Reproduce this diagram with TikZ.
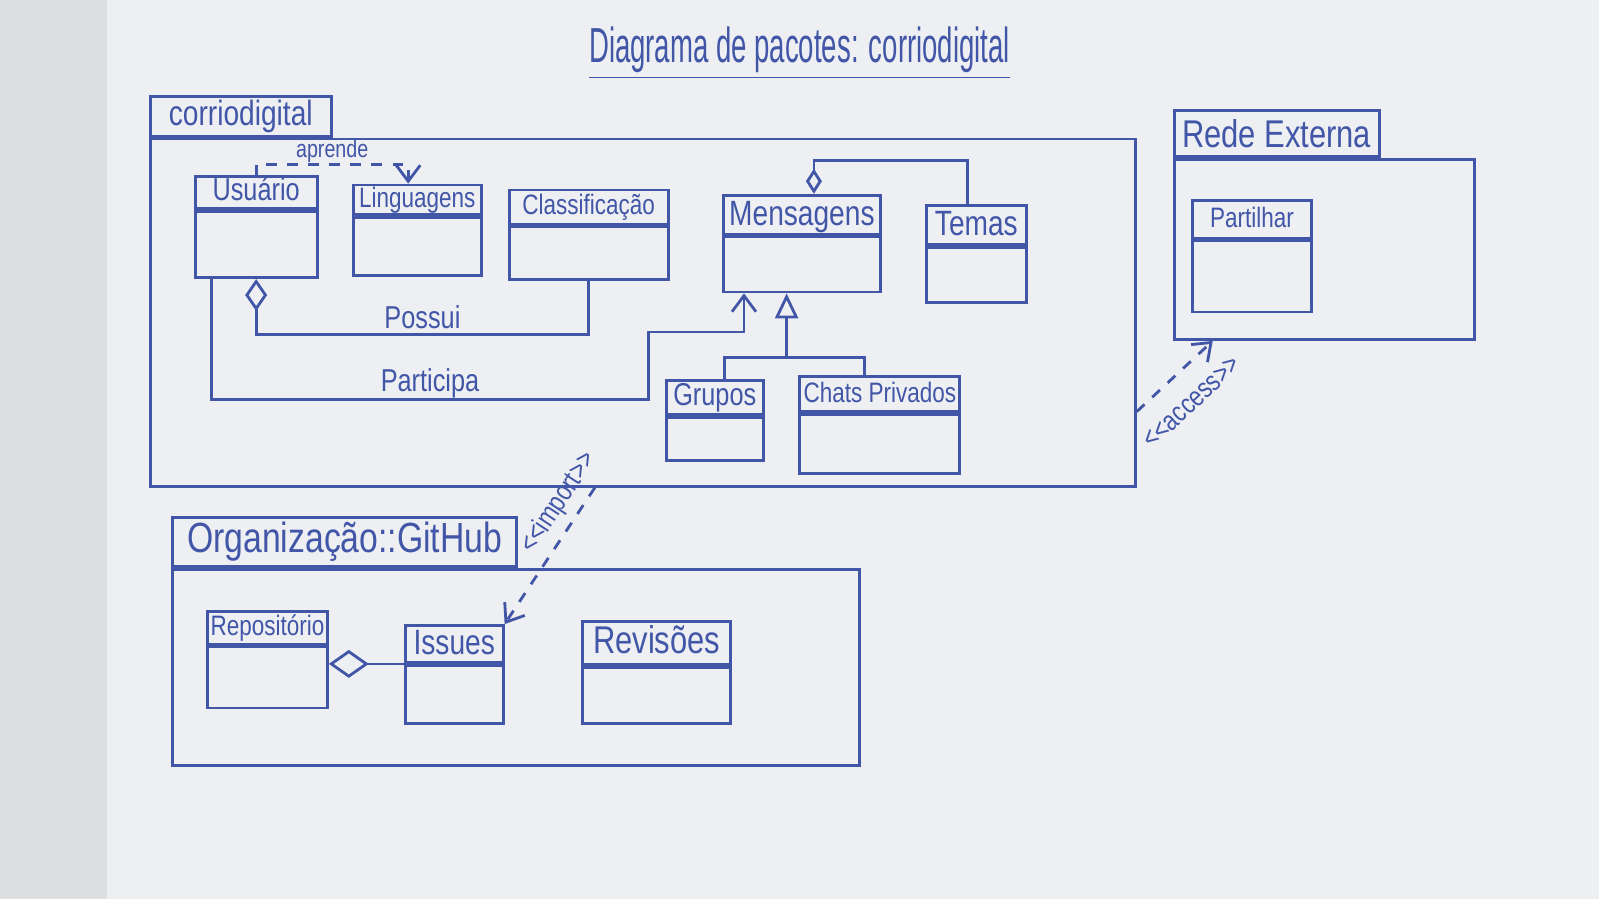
\documentclass[tikz,border=0pt]{standalone}
\usepackage{fontspec}
\setmainfont{Liberation Sans}
\newfontfamily\handfont[FakeStretch=0.8]{Liberation Sans}
\newfontfamily\titlefont[FakeStretch=0.56]{Liberation Sans}
\usepackage{tikz}
\usetikzlibrary{arrows.meta,positioning,calc}
\definecolor{ink}{RGB}{66,86,168}
\definecolor{paper}{RGB}{237,239,242}
\definecolor{sleeve}{RGB}{220,222,224}
\tikzset{
  clshead/.style={rectangle, draw=ink, thick, anchor=north west, inner sep=0.5pt, text height=6pt, text depth=1.5pt, text=ink, font=\handfont\fontsize{8}{9.6}\selectfont},
  bigname/.style={text height=7.5pt, font=\handfont\fontsize{10}{12}\selectfont},
  clsbody/.style={rectangle, draw=ink, thick, inner sep=0pt},
  pkgbody/.style={rectangle, draw=ink, thick, anchor=north west, inner sep=0pt},
  pkgtab/.style={rectangle, draw=ink, thick, inner sep=1pt, text=ink},
  inkline/.style={draw=ink, thick},
  agg/.style={inkline, {Diamond[open,length=3.2mm,width=2.2mm]}-},
  inh/.style={inkline, -{Triangle[open,length=2.5mm,width=2.3mm]}},
  assoc/.style={inkline, -{Straight Barb[length=1.6mm,width=2.4mm]}},
  dep/.style={assoc, dashed},
  lbl/.style={text=ink, inner sep=1pt, font=\handfont\fontsize{9}{10}\selectfont},
  stereo/.style={lbl, font=\handfont\fontsize{8}{9}\selectfont},
}

\begin{document}
\begin{tikzpicture}[x=0.10198mm, y=-0.10198mm]
  \useasboundingbox (0,0) rectangle (1568,882);
  \fill[paper] (0,0) rectangle (1568,882);
  \fill[sleeve] (0,0) rectangle (105,882);

  % Title
  \node[text=ink, font=\titlefont\fontsize{14}{16}\selectfont] (title) at (784,52) {\underline{Diagrama de pacotes: corriodigital}};

  % Package corriodigital
  \node[pkgbody, minimum width=98.5mm, minimum height=34.7mm] (corr) at (146,135) {};
  \node[pkgtab, above right=0pt of corr.north west, minimum width=18.1mm, minimum height=3.3mm, font=\handfont\fontsize{10}{12}\selectfont] (corr-tab) {corriodigital};

  \node[clshead, minimum width=12.2mm, minimum height=3.2mm, font=\handfont\fontsize{9}{10}\selectfont] (usuario) at (190,172) {Usuário};
  \node[clsbody, below=0pt of usuario, minimum width=12.2mm, minimum height=6.6mm] (usuario-b) {};
  \node[clshead, minimum width=12.8mm, minimum height=2.9mm] (linguagens) at (345,180) {Linguagens};
  \node[clsbody, below=0pt of linguagens, minimum width=12.8mm, minimum height=5.8mm] (linguagens-b) {};
  \node[clshead, minimum width=15.9mm, minimum height=3.4mm] (classificacao) at (498,185) {Classificação};
  \node[clsbody, below=0pt of classificacao, minimum width=15.9mm, minimum height=5.3mm] (classificacao-b) {};
  \node[clshead, bigname, minimum width=15.7mm, minimum height=3.9mm] (mensagens) at (708,190) {Mensagens};
  \node[clsbody, below=0pt of mensagens, minimum width=15.7mm, minimum height=5.5mm] (mensagens-b) {};
  \node[clshead, bigname, minimum width=10mm, minimum height=3.9mm] (temas) at (907,200) {Temas};
  \node[clsbody, below=0pt of temas, minimum width=10mm, minimum height=5.5mm] (temas-b) {};
  \node[clshead, font=\handfont\fontsize{9}{10}\selectfont, minimum width=9.7mm, minimum height=3.4mm] (grupos) at (652,372) {Grupos};
  \node[clsbody, below=0pt of grupos, minimum width=9.7mm, minimum height=4.3mm] (grupos-b) {};
  \node[clshead, minimum width=16mm, minimum height=3.5mm] (chats) at (783,368) {Chats Privados};
  \node[clsbody, below=0pt of chats, minimum width=16mm, minimum height=5.9mm] (chats-b) {};

  % aprende / Possui / Participa
  \draw[dep] (usuario.north) -- ++(0,-11) -| node[lbl, pos=0.25, above=-1pt, font=\handfont\fontsize{7}{8}\selectfont] {aprende} ([xshift=-0.9mm]linguagens.north);
  \draw[agg] (usuario-b.south) -- ++(0,54) -| node[lbl, pos=0.25, above] {Possui} (classificacao-b.south);
  \draw[assoc] ([xshift=1.8mm]usuario-b.south west) -- ++(0,118) -- node[lbl, above=-1pt] {Participa} ++(428,0) -- ++(0,-66) -| ([xshift=2.2mm]mensagens-b.south west);

  % Mensagens hierarchy
  \path (mensagens-b.south) ++(-15,63) coordinate (gen);
  \draw[inh] (gen) -- (gen |- mensagens-b.south);
  \draw[inkline] ([xshift=1mm]grupos.north) |- (gen) -| ([xshift=-1.5mm]chats.north);
  \draw[agg, {Diamond[open,length=2.5mm,width=1.6mm]}-] ([xshift=1.2mm]mensagens.north) -- ++(0,-33) -| ([xshift=-0.9mm]temas.north);

  % Package Rede Externa
  \node[pkgbody, minimum width=30mm, minimum height=18mm] (rede) at (1150,155) {};
  \node[pkgtab, above right=0pt of rede.north west, minimum width=20.5mm, minimum height=4.6mm, font=\handfont\fontsize{11}{13}\selectfont] (rede-tab) {Rede Externa};
  \node[clshead, minimum width=11.9mm, minimum height=3.8mm] (partilhar) at (1168,195) {Partilhar};
  \node[clsbody, below=0pt of partilhar, minimum width=11.9mm, minimum height=7.1mm] (partilhar-b) {};

  % Package Organizacao::GitHub
  \node[pkgbody, minimum width=68.7mm, minimum height=19.6mm] (org) at (168,557) {};
  \node[pkgtab, above right=0pt of org.north west, minimum width=34.4mm, minimum height=4.9mm, font=\handfont\fontsize{12}{14}\selectfont] (org-tab) {Organização::GitHub};
  \node[clshead, minimum width=12mm, minimum height=3.3mm] (repositorio) at (202,598) {Repositório};
  \node[clsbody, below=0pt of repositorio, minimum width=12mm, minimum height=6.1mm] (repositorio-b) {};
  \node[clshead, bigname, minimum width=9.8mm, minimum height=3.7mm] (issues) at (396,612) {Issues};
  \node[clsbody, below=0pt of issues, minimum width=9.8mm, minimum height=5.8mm] (issues-b) {};
  \node[clshead, bigname, font=\handfont\fontsize{11}{13}\selectfont, minimum width=14.8mm, minimum height=4.3mm] (revisoes) at (570,608) {Revisões};
  \node[clsbody, below=0pt of revisoes, minimum width=14.8mm, minimum height=5.6mm] (revisoes-b) {};
  \draw[agg, {Diamond[open,length=4mm,width=2.8mm]}-] (issues.south west -| repositorio-b.east) -- (issues.south west);

  % import / access
  \draw[dep] ([xshift=44.6mm]corr.south west) -- node[stereo, sloped, above=1pt, pos=0.2] {<<import>>} (issues.north east);
  \draw[dep] ([yshift=-9.9mm]corr.east) -- node[stereo, sloped, below=5pt, pos=0.45] {<<access>>} ([xshift=4mm]rede.south west);
\end{tikzpicture}
\end{document}
